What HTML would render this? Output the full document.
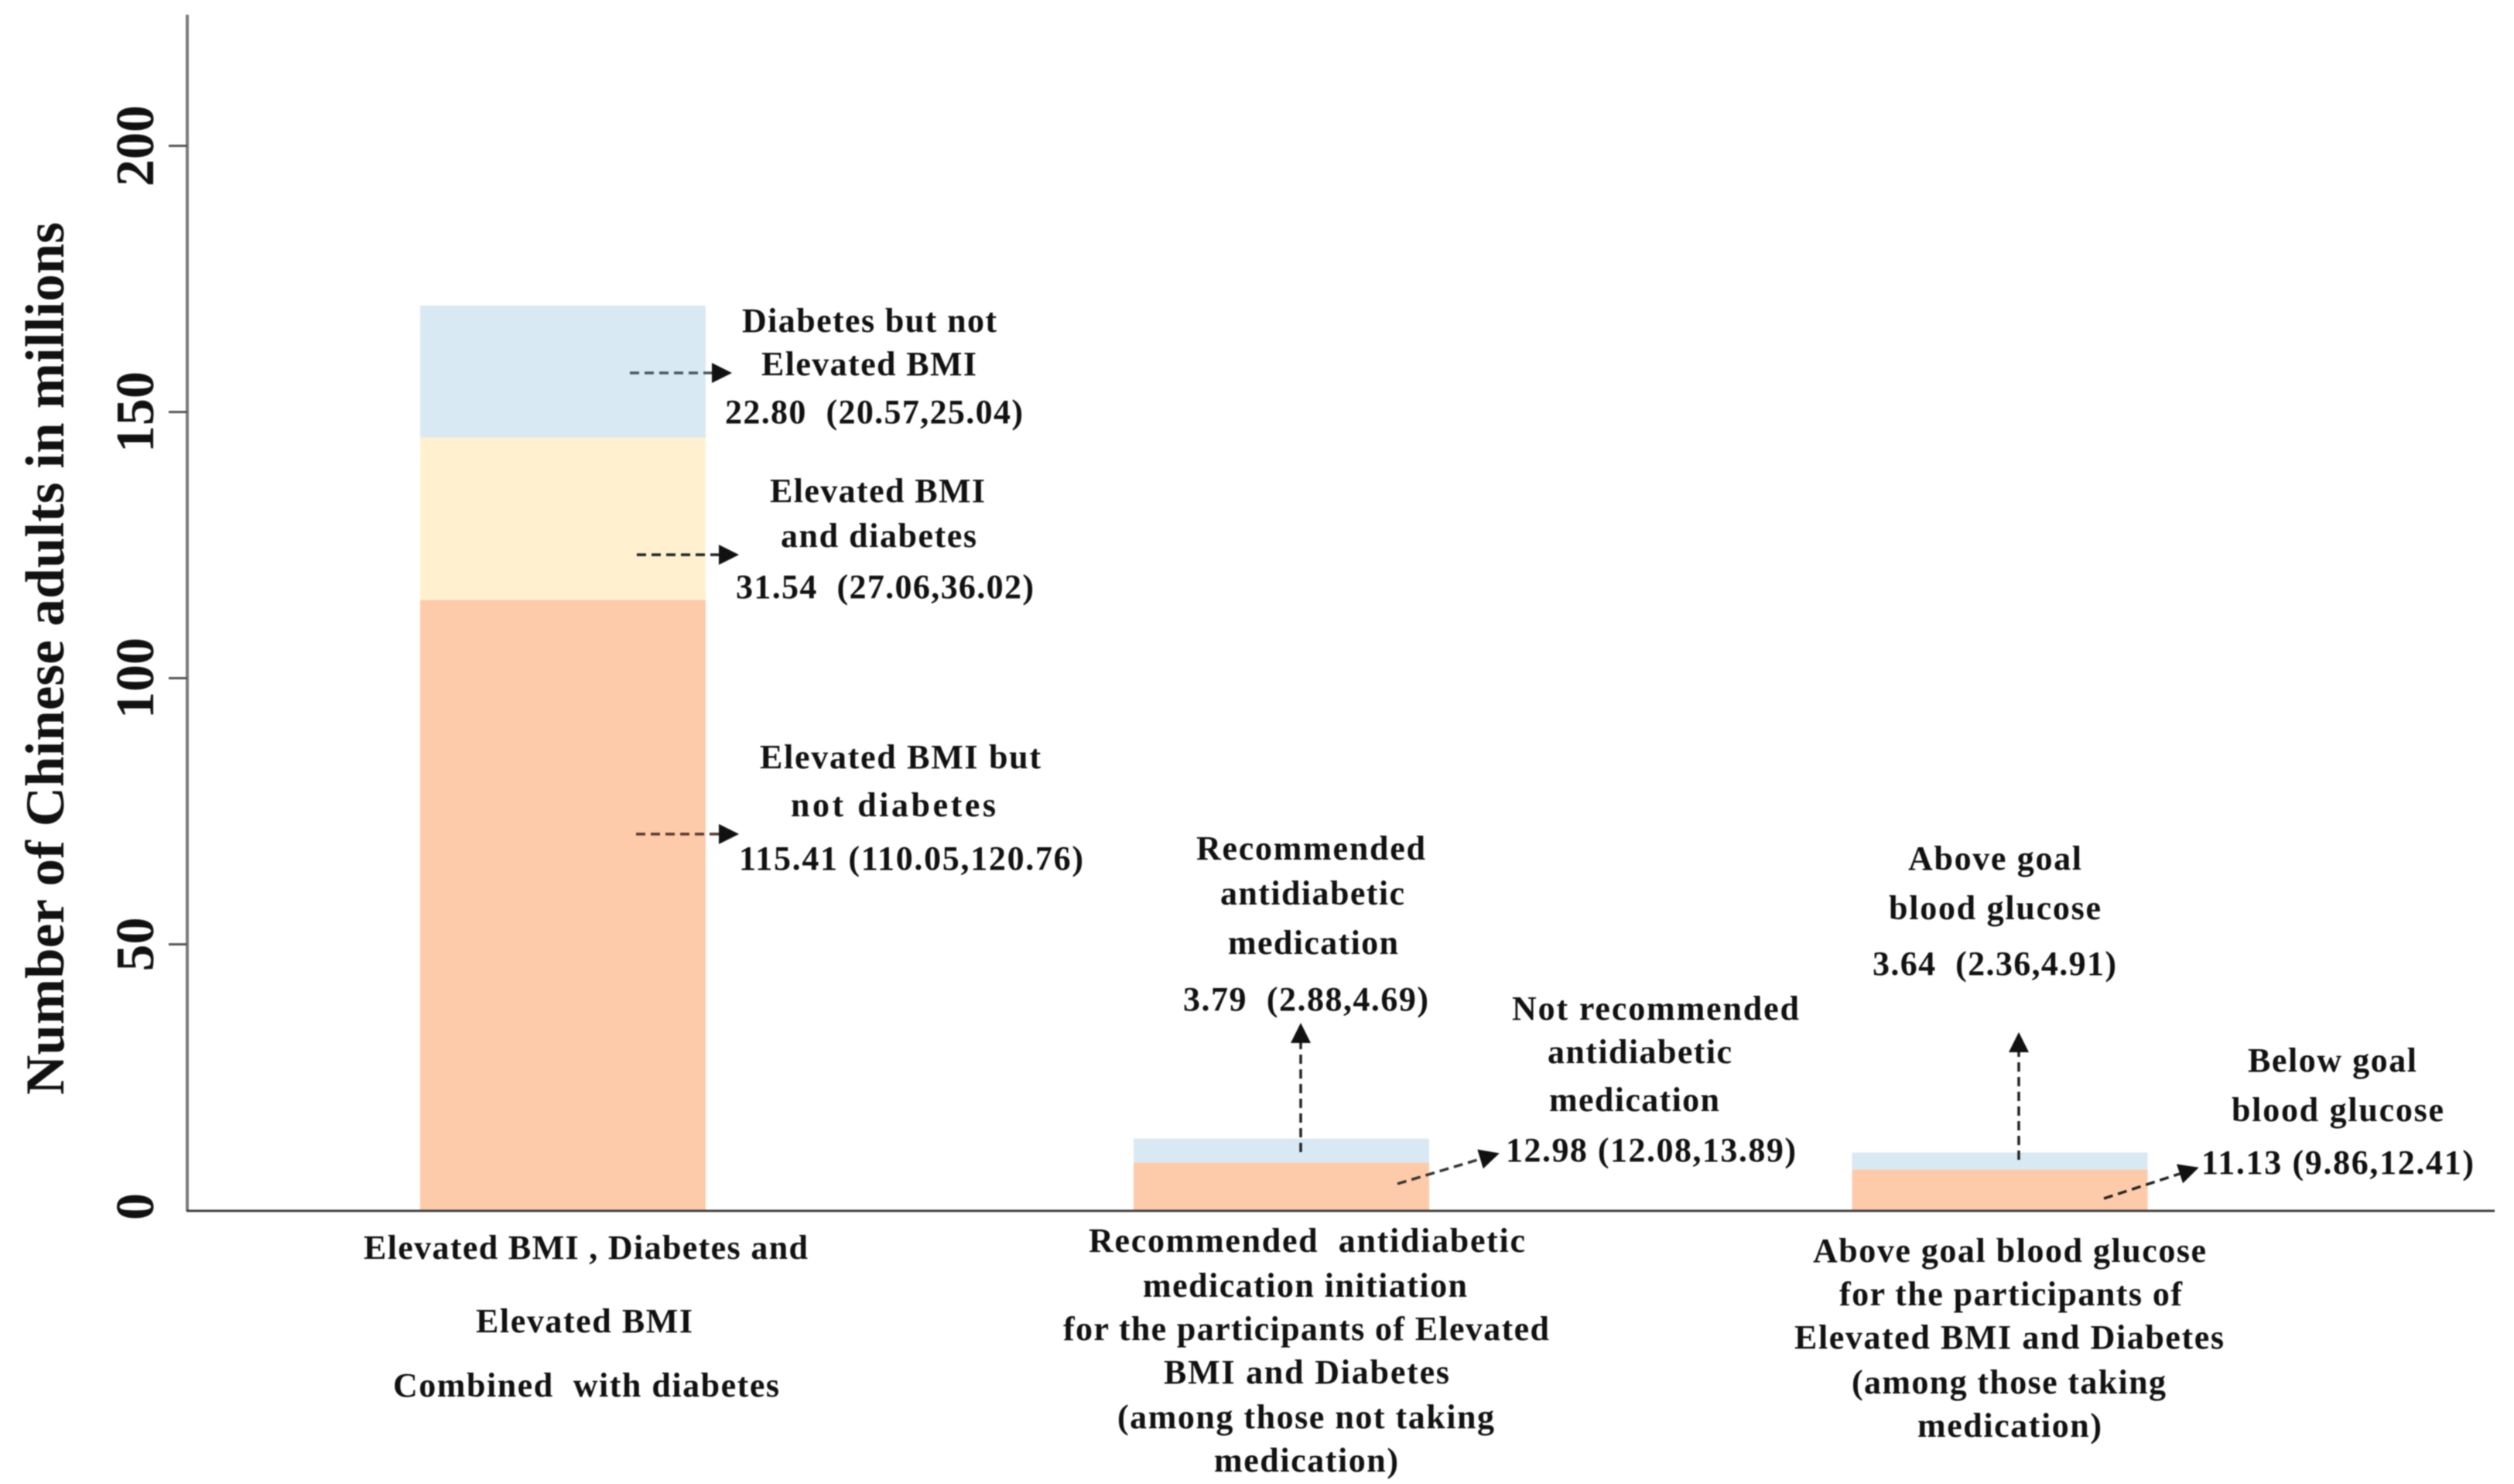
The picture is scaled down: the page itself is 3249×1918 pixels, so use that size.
<!DOCTYPE html>
<html lang="en">
<head>
<meta charset="utf-8">
<title>Number of Chinese adults in millions</title>
<style>
html,body{margin:0;padding:0;background:#fff;}
svg{display:block;filter:blur(0.8px);}
text{font-family:"Liberation Serif",serif;font-weight:bold;fill:#111;white-space:pre;}
.a{font-size:44px;}
</style>
</head>
<body>
<svg id="chart" xmlns="http://www.w3.org/2000/svg" width="3249" height="1918" viewBox="0 0 3249 1918">
<defs>
<marker id="head" markerUnits="userSpaceOnUse" markerWidth="26" markerHeight="26" refX="0" refY="13" orient="auto"><path d="M0,0 L26,13 L0,26 Z" fill="#111"/></marker>
</defs>
<rect width="3249" height="1918" fill="#fff"/>
<g id="bars"></g>
<line x1="242" y1="19" x2="242" y2="1565" stroke="#7a7a7a" stroke-width="4"/>
<line x1="241" y1="1565" x2="3224" y2="1565" stroke="#404040" stroke-width="3"/>
<g id="ticks"></g>
<text transform="translate(82,1415) rotate(-90)" font-size="71" textLength="1128" lengthAdjust="spacing" fill="#222">Number of Chinese adults in millions</text>

<g fill="none" stroke-width="3.5" stroke-dasharray="12 7">
<line x1="814" y1="482" x2="920" y2="482" stroke="#4a5560" marker-end="url(#head)"/>
<line x1="823" y1="717" x2="929" y2="717" stroke="#222" marker-end="url(#head)"/>
<line x1="822" y1="1078" x2="929" y2="1078" stroke="#5a3a30" marker-end="url(#head)"/>
<line x1="1681" y1="1489" x2="1681" y2="1348" stroke="#222" marker-end="url(#head)"/>
<line x1="1806" y1="1530" x2="1913" y2="1498" stroke="#333" marker-end="url(#head)"/>
<line x1="2609" y1="1499" x2="2609" y2="1360" stroke="#222" marker-end="url(#head)"/>
<line x1="2719" y1="1549" x2="2817" y2="1517" stroke="#222" marker-end="url(#head)"/>
</g>

<g class="a">
<text x="959" y="429" textLength="329">Diabetes but not</text>
<text x="984" y="485" textLength="278">Elevated BMI</text>
<text x="937" y="547" textLength="385">22.80  (20.57,25.04)</text>
</g>
<g class="a">
<text x="995" y="649" textLength="278">Elevated BMI</text>
<text x="1009" y="707" textLength="253">and diabetes</text>
<text x="951" y="773" textLength="385">31.54  (27.06,36.02)</text>
</g>
<g class="a">
<text x="982" y="993" textLength="363">Elevated BMI but</text>
<text x="1022" y="1055" textLength="265">not diabetes</text>
<text x="955" y="1124" textLength="445">115.41 (110.05,120.76)</text>
</g>
<g class="a">
<text x="1546" y="1111" textLength="296">Recommended</text>
<text x="1577" y="1169" textLength="238">antidiabetic</text>
<text x="1587" y="1233" textLength="220">medication</text>
<text x="1529" y="1306" textLength="317">3.79  (2.88,4.69)</text>
</g>
<g class="a">
<text x="1954" y="1318" textLength="371">Not recommended</text>
<text x="2000" y="1374" textLength="238">antidiabetic</text>
<text x="2002" y="1436" textLength="220">medication</text>
<text x="1946" y="1501" textLength="375">12.98 (12.08,13.89)</text>
</g>
<g class="a">
<text x="2466" y="1124" textLength="224">Above goal</text>
<text x="2441" y="1188" textLength="274">blood glucose</text>
<text x="2420" y="1260" textLength="315">3.64  (2.36,4.91)</text>
</g>
<g class="a">
<text x="2905" y="1385" textLength="218">Below goal</text>
<text x="2884" y="1449" textLength="274">blood glucose</text>
<text x="2845" y="1517" textLength="352">11.13 (9.86,12.41)</text>
</g>

<g class="a">
<text x="470" y="1627" textLength="574">Elevated BMI , Diabetes and</text>
<text x="615" y="1722" textLength="280">Elevated BMI</text>
<text x="508" y="1805" textLength="499">Combined  with diabetes</text>
</g>
<g class="a">
<text x="1407" y="1618" textLength="564">Recommended  antidiabetic</text>
<text x="1477" y="1676" textLength="419">medication initiation</text>
<text x="1374" y="1732" textLength="628">for the participants of Elevated</text>
<text x="1504" y="1788" textLength="369">BMI and Diabetes</text>
<text x="1444" y="1846" textLength="487">(among those not taking</text>
<text x="1569" y="1902" textLength="238">medication)</text>
</g>
<g class="a">
<text x="2343" y="1631" textLength="508">Above goal blood glucose</text>
<text x="2377" y="1687" textLength="443">for the participants of</text>
<text x="2319" y="1743" textLength="555">Elevated BMI and Diabetes</text>
<text x="2393" y="1801" textLength="406">(among those taking</text>
<text x="2478" y="1857" textLength="238">medication)</text>
</g>
</svg>
<script>
const categories = ["Elevated BMI and diabetes", "Recommended medication", "Above goal blood glucose"];
const baseValues = [114.7, 9.0, 7.7];
const middleValues = [30.5, 0, 0];
const topValues = [24.8, 4.5, 3.2];
const tickValues = [0, 50, 100, 150, 200];

const NS = "http://www.w3.org/2000/svg";
function yScale(v) { return 1564.5 - v * 6.88; }
function barCenter(i) { return 727.5 + i * 928.5; }
function barWidth(i) { return i === 0 ? 369 : 382; }

const barsGroup = document.getElementById("bars");
const ticksGroup = document.getElementById("ticks");

function drawSegment(i, start, value, color, name) {
  if (value <= 0) return;
  const r = document.createElementNS(NS, "rect");
  r.setAttribute("x", barCenter(i) - barWidth(i) / 2);
  r.setAttribute("y", yScale(start + value));
  r.setAttribute("width", barWidth(i));
  r.setAttribute("height", yScale(start) - yScale(start + value));
  r.setAttribute("fill", color);
  
  
  barsGroup.appendChild(r);
}

categories.forEach(function (c, i) {
  drawSegment(i, 0, baseValues[i], "#fecbaa", "bar-base-segment");
  drawSegment(i, baseValues[i], middleValues[i], "#fff1cf", "bar-middle-segment");
  drawSegment(i, baseValues[i] + middleValues[i], topValues[i], "#d9e9f4", "bar-top-segment");
});

tickValues.forEach(function (t) {
  const y = yScale(t);
  if (t > 0) {
    const l = document.createElementNS(NS, "line");
    l.setAttribute("x1", 218);
    l.setAttribute("x2", 242);
    l.setAttribute("y1", y);
    l.setAttribute("y2", y);
    l.setAttribute("stroke", "#555");
    l.setAttribute("stroke-width", 3);
    
    
    ticksGroup.appendChild(l);
  }
  const s = document.createElementNS(NS, "text");
  s.setAttribute("transform", "translate(198," + (t === 0 ? y - 5 : y) + ") rotate(-90)");
  s.setAttribute("text-anchor", "middle");
  s.setAttribute("font-size", 70);
  s.setAttribute("fill", "#222");
  s.textContent = String(t);
  
  
  ticksGroup.appendChild(s);
});
</script>
</body>
</html>
